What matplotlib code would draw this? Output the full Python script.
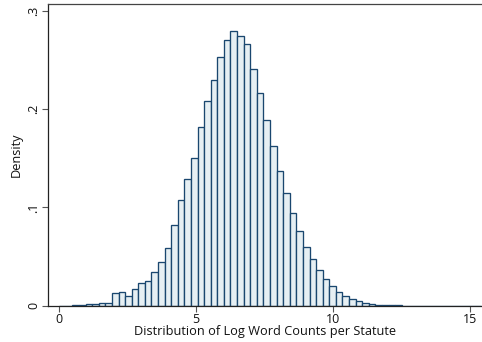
import matplotlib
matplotlib.use("Agg")
import matplotlib.pyplot as plt
import numpy as np

plt.rcParams['font.family'] = ['Open Sans', 'DejaVu Sans']

# Histogram data (density per bin)
bin_start = 0.0
bin_width = 0.2405
densities = [
    0.0001, 0.0002, 0.0003, 0.0005, 0.0013, 0.0017, 0.0024, 0.0027,
    0.0126, 0.0143, 0.0102, 0.0167, 0.0228, 0.0252, 0.0340, 0.0442,
    0.0585, 0.0823, 0.1078, 0.1290, 0.1500, 0.1820, 0.2080, 0.2300,
    0.2530, 0.2700, 0.2796, 0.2748, 0.2667, 0.2410, 0.2170, 0.1888,
    0.1630, 0.1367, 0.1143, 0.0949, 0.0762, 0.0602, 0.0476, 0.0367,
    0.0276, 0.0201, 0.0136, 0.0099, 0.0065, 0.0044, 0.0027, 0.0017,
    0.0010, 0.0006, 0.0004, 0.0003, 0.0002, 0.0002, 0.0002, 0.0001,
    0.0001, 0.0001, 0.0001, 0.0001, 0.0001, 0.0001, 0.0001, 0.0001,
]
x_ticks = [0, 5, 10, 15]
x_tick_labels = ["0", "5", "10", "15"]
y_ticks = [0, 0.1, 0.2, 0.3]
y_tick_labels = ["0", ".1", ".2", ".3"]
x_label = "Distribution of Log Word Counts per Statute"
y_label = "Density"

edges = bin_start + bin_width * np.arange(len(densities))

fig = plt.figure(figsize=(4.82, 3.42), dpi=100)
ax = fig.add_axes([0.0996, 0.106, 0.9004, 0.882])

ax.bar(edges, densities, width=bin_width, align='edge',
       color='#e6eff3', edgecolor='#1a476f', linewidth=0.95)

ax.set_xlim(-0.413, 15.44)
ax.set_ylim(0, 0.307)
ax.set_xticks(x_ticks)
ax.set_xticklabels(x_tick_labels)
ax.set_yticks(y_ticks)
ax.set_yticklabels(y_tick_labels, rotation=90, va='center')

ax.tick_params(axis='both', direction='out', length=4, width=0.8,
               color='#555555', labelsize=9, pad=1.5, labelcolor='#111111')
ax.set_xlabel(x_label, fontsize=9.2, labelpad=-1, color='#111111')
ax.set_ylabel(y_label, fontsize=9.2, labelpad=3, color='#111111')

for s in ['left', 'bottom', 'top']:
    ax.spines[s].set_color('#222222')
    ax.spines[s].set_linewidth(0.9)
ax.spines['top'].set_color('#444444')
ax.spines['right'].set_visible(False)

fig.savefig('out.png', dpi=100)
